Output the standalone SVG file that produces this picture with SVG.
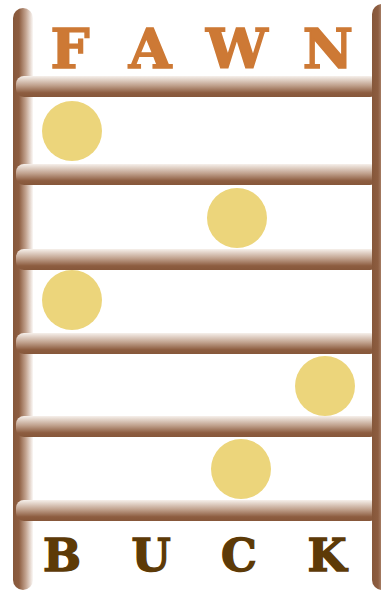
<svg xmlns="http://www.w3.org/2000/svg" width="381" height="591" viewBox="0 0 381 591">
  <defs>
    <linearGradient id="postGrad" x1="0" y1="0" x2="1" y2="0">
      <stop offset="0" stop-color="#86573a"/>
      <stop offset="0.3" stop-color="#8d5d40"/>
      <stop offset="0.65" stop-color="#c4a592"/>
      <stop offset="1" stop-color="#fbf8f6"/>
    </linearGradient>
    <linearGradient id="rungGrad" x1="0" y1="0" x2="0" y2="1">
      <stop offset="0" stop-color="#f6f0eb"/>
      <stop offset="0.45" stop-color="#c0a18d"/>
      <stop offset="0.8" stop-color="#8d5d40"/>
      <stop offset="1" stop-color="#86573a"/>
    </linearGradient>
    <style>
      .post { fill: url(#postGrad); }
      .rung { fill: url(#rungGrad); }
      .dot { fill: #ecd57b; }
      .top { font-family: "DejaVu Serif", "Liberation Serif", serif; font-weight: bold; fill: #cd7935; stroke: #cd7935; stroke-width: 1.6; stroke-linejoin: miter; text-anchor: middle; }
      .bot { font-family: "DejaVu Serif", "Liberation Serif", serif; font-weight: bold; fill: #5d3a07; stroke: #5d3a07; stroke-width: 1.4; stroke-linejoin: miter; text-anchor: middle; }
    </style>
  </defs>
  <rect width="381" height="591" fill="#ffffff"/>
  <g id="left-post">
    <rect class="post" x="13" y="8" width="20" height="582" rx="10"/>
  </g>
  <g id="rungs">
    <rect class="rung" x="16" y="76" width="362" height="21" rx="8"/>
    <rect class="rung" x="16" y="164" width="362" height="21" rx="8"/>
    <rect class="rung" x="16" y="249" width="362" height="21" rx="8"/>
    <rect class="rung" x="16" y="333" width="362" height="21" rx="8"/>
    <rect class="rung" x="16" y="416" width="362" height="21" rx="8"/>
    <rect class="rung" x="16" y="500" width="362" height="21" rx="8"/>
  </g>
  <g id="right-post">
    <rect class="post" x="372" y="4" width="20" height="586" rx="10"/>
  </g>
  <g id="dots">
    <circle class="dot" cx="72" cy="131" r="30"/>
    <circle class="dot" cx="237" cy="218" r="30"/>
    <circle class="dot" cx="72" cy="300" r="30"/>
    <circle class="dot" cx="325" cy="386" r="30"/>
    <circle class="dot" cx="241" cy="469" r="30"/>
  </g>
  <g id="top-word">
    <text class="top" x="70" y="68" font-size="55">F</text>
    <text class="top" x="150" y="68" font-size="55">A</text>
    <text class="top" x="237" y="68" font-size="55">W</text>
    <text class="top" x="328" y="68" font-size="55">N</text>
  </g>
  <g id="bottom-word">
    <text class="bot" x="62" y="571" font-size="45">B</text>
    <text class="bot" x="151" y="571" font-size="45">U</text>
    <text class="bot" x="239" y="571" font-size="45">C</text>
    <text class="bot" x="327" y="571" font-size="45">K</text>
  </g>
</svg>
